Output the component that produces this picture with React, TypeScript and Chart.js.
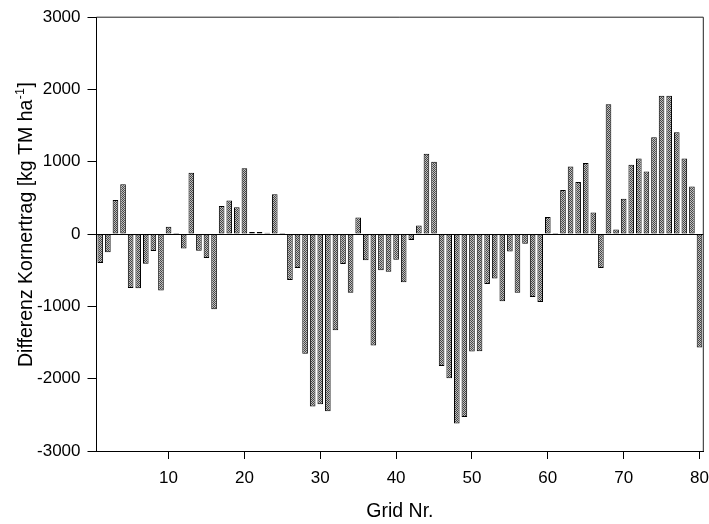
import React, { useEffect, useRef } from "react";
import { Chart, registerables } from "chart.js";

Chart.register(...registerables);

const gridNr: number[] = [
  1, 2, 3, 4, 5, 6, 7, 8, 9, 10, 11, 12, 13, 14, 15, 16, 17, 18, 19, 20,
  21, 22, 23, 24, 25, 26, 27, 28, 29, 30, 31, 32, 33, 34, 35, 36, 37, 38, 39, 40,
  41, 42, 43, 44, 45, 46, 47, 48, 49, 50, 51, 52, 53, 54, 55, 56, 57, 58, 59, 60,
  61, 62, 63, 64, 65, 66, 67, 68, 69, 70, 71, 72, 73, 74, 75, 76, 77, 78, 79, 80,
];

const differenz: number[] = [
  -400, -250, 470, 690, -745, -750, -410, -235, -780, 100,
  15, -200, 850, -230, -330, -1040, 390, 465, 370, 910,
  30, 30, 20, 550, 15, -635, -470, -1655, -2385, -2355,
  -2450, -1330, -415, -810, 230, -360, -1540, -500, -520, -355,
  -665, -80, 120, 1110, 1000, -1825, -1995, -2620, -2530, -1625,
  -1620, -690, -615, -930, -240, -810, -135, -870, -940, 235,
  15, 610, 935, 720, 985, 300, -470, 1795, 65, 490,
  960, 1045, 865, 1340, 1915, 1915, 1410, 1045, 660, -1570,
];

const xTicks: number[] = [10, 20, 30, 40, 50, 60, 70, 80];
const yTicks: number[] = [-3000, -2000, -1000, 0, 1000, 2000, 3000];

const xTitle = "Grid Nr.";
const yTitleMain = "Differenz Kornertrag [kg TM ha";
const yTitleSup = "-1";
const yTitleEnd = "]";

const FONT = "Arial, 'Liberation Sans', sans-serif";

export default function App() {
  const ref = useRef<HTMLCanvasElement | null>(null);

  useEffect(() => {
    document.body.style.margin = "0";
    const canvas = ref.current;
    if (!canvas) return;
    const ctx = canvas.getContext("2d")!;

    const pc = document.createElement("canvas");
    pc.width = 2;
    pc.height = 2;
    const g = pc.getContext("2d")!;
    g.fillStyle = "#c0c0c0";
    g.fillRect(0, 0, 2, 2);
    g.fillStyle = "#444";
    g.fillRect(0, 0, 1, 1);
    g.fillRect(1, 1, 1, 1);
    const pattern = ctx.createPattern(pc, "repeat")!;

    const framePlugin = {
      id: "frame",
      afterDraw(chart: any) {
        const { ctx: c, chartArea } = chart;
        c.save();
        c.strokeStyle = "#222";
        c.lineWidth = 1;
        c.beginPath();
        c.moveTo(chartArea.left, chartArea.top);
        c.lineTo(chartArea.right, chartArea.top);
        c.lineTo(chartArea.right, chartArea.bottom);
        c.stroke();
        // y-axis title with superscript
        c.fillStyle = "#000";
        c.translate(31.5, 367);
        c.rotate(-Math.PI / 2);
        c.textBaseline = "alphabetic";
        c.textAlign = "left";
        c.font = `19.5px ${FONT}`;
        c.fillText(yTitleMain, 0, 0);
        let w = c.measureText(yTitleMain).width;
        c.font = `12.5px ${FONT}`;
        c.fillText(yTitleSup, w + 0.5, -8);
        w += c.measureText(yTitleSup).width + 1;
        c.font = `19.5px ${FONT}`;
        c.fillText(yTitleEnd, w, 0);
        c.restore();
      },
    };

    const chart = new Chart(ctx, {
      type: "bar",
      data: {
        datasets: [
          {
            data: gridNr.map((x, i) => ({ x, y: differenz[i] })),
            backgroundColor: pattern,
            borderColor: "#000",
            borderWidth: 1,
            borderSkipped: false,
            barPercentage: 0.74,
            categoryPercentage: 1,
          },
        ],
      },
      options: {
        animation: false,
        responsive: false,
        layout: { padding: { left: 0, right: 5.7, top: 15, bottom: 0 } },
        plugins: { legend: { display: false }, tooltip: { enabled: false } },
        scales: {
          x: {
            type: "linear",
            min: 0.5,
            max: 80.5,
            offset: false,
            afterBuildTicks: (s: any) => {
              s.ticks = xTicks.map((v) => ({ value: v }));
            },
            afterFit: (s: any) => {
              s.height = 73;
              s.paddingLeft = 0;
              s.paddingRight = 0;
            },
            grid: {
              drawOnChartArea: false,
              tickLength: 8,
              color: "#000",
              offset: false,
            },
            border: { display: true, color: "#000", width: 1 },
            ticks: {
              color: "#000",
              padding: 9,
              maxRotation: 0,
              autoSkip: false,
              font: { family: FONT, size: 17 },
              callback: (v: any) => String(v),
            },
            title: {
              display: true,
              text: xTitle,
              color: "#000",
              padding: { top: 0, bottom: 0.5 },
              font: { family: FONT, size: 19.5 },
            },
          },
          y: {
            min: -3000,
            max: 3000,
            afterBuildTicks: (s: any) => {
              s.ticks = yTicks.map((v) => ({ value: v }));
            },
            afterFit: (s: any) => {
              s.width = 96.5;
            },
            grid: {
              drawOnChartArea: true,
              color: (c: any) => (c.tick && c.tick.value === 0 ? "#000" : "rgba(0,0,0,0)"),
              tickColor: "#000",
              tickLength: 9,
            },
            border: { display: true, color: "#000", width: 1 },
            ticks: {
              color: "#000",
              padding: 7,
              font: { family: FONT, size: 17 },
              callback: (v: any) => String(v),
            },
          },
        },
      },
      plugins: [framePlugin],
    } as any);

    return () => chart.destroy();
  }, []);

  return (
    <div style={{ width: 709, height: 524 }}>
      <canvas ref={ref} width={709} height={524} />
    </div>
  );
}
